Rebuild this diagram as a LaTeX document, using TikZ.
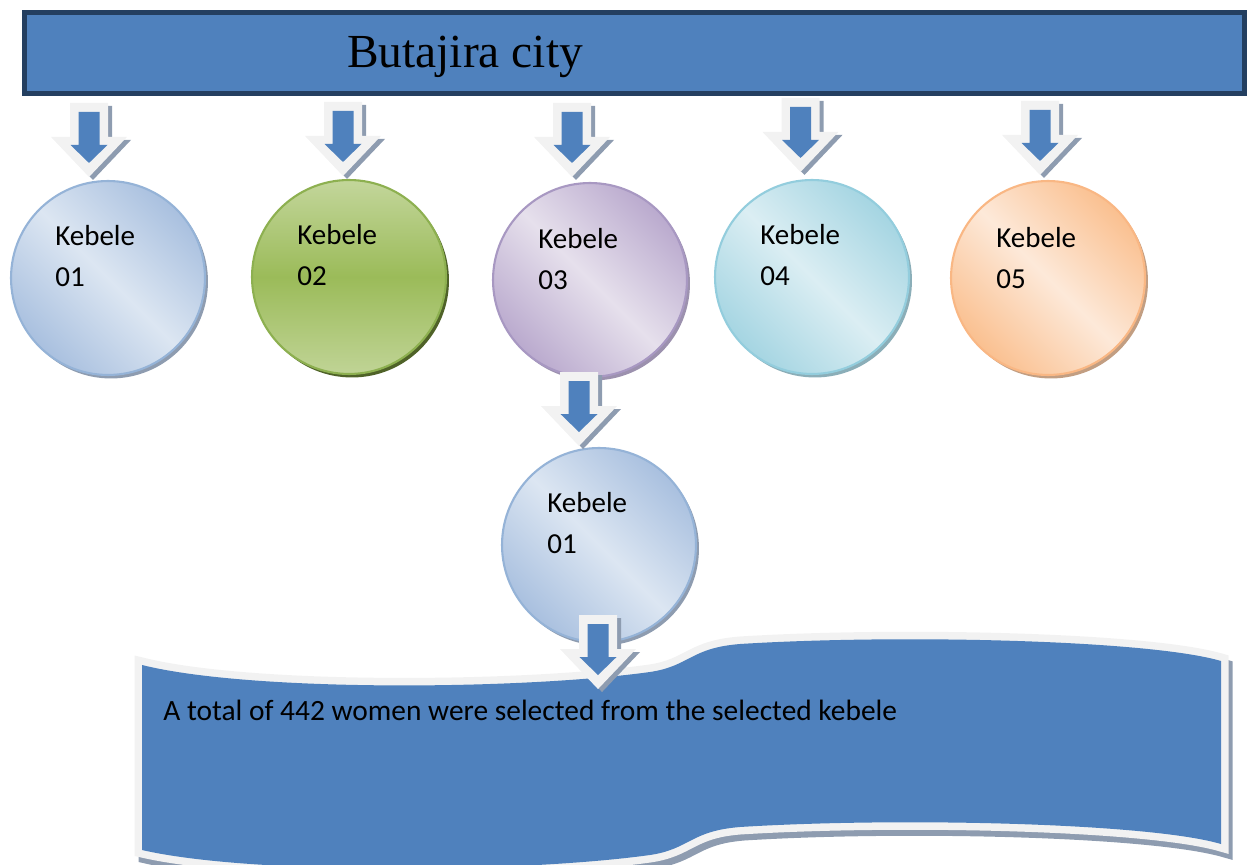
\documentclass[tikz,border=0pt]{standalone}
\usepackage{fontspec}
\setmainfont{Liberation Serif}
\newfontfamily\calibri{Carlito}
\usetikzlibrary{calc, positioning, shadows}

\definecolor{hdrblue}{HTML}{4F81BD}
\definecolor{hdrdark}{HTML}{243F60}
\definecolor{bandgray}{HTML}{F2F2F2}
\definecolor{shadegray}{HTML}{8E9CB0}
% circle colours
\definecolor{bluedark}{HTML}{A9C0DF}
\definecolor{bluelight}{HTML}{DCE6F2}
\definecolor{blueline}{HTML}{95B3D7}
\definecolor{greenlight}{HTML}{C3D69B}
\definecolor{greenmid}{HTML}{9BBB59}
\definecolor{greenline}{HTML}{8DB050}
\definecolor{greenshadow}{HTML}{4F6228}
\definecolor{purpledark}{HTML}{BAAACE}
\definecolor{purplelight}{HTML}{E6E0EC}
\definecolor{purpleline}{HTML}{A898C2}
\definecolor{aquadark}{HTML}{A5D5E2}
\definecolor{aqualight}{HTML}{DBEEF3}
\definecolor{aqualine}{HTML}{93CDDD}
\definecolor{orangedark}{HTML}{FAC090}
\definecolor{orangelight}{HTML}{FDE9D9}
\definecolor{orangeline}{HTML}{F9B784}

\def\bannerpath{(142,665) .. controls (250,692) and (520,690) .. (650,672)
  .. controls (690,666) and (690,648) .. (740,644)
  .. controls (900,634) and (1150,640) .. (1221,661) -- (1221,844)
  .. controls (1150,823) and (900,817) .. (740,827)
  .. controls (690,831) and (690,849) .. (650,855)
  .. controls (520,873) and (250,875) .. (142,850) -- cycle}

\tikzset{
  hdr/.style={rectangle, fill=hdrblue, draw=hdrdark, line width=0.1cm,
    minimum width=24.4cm, minimum height=1.62cm, inner sep=0pt, outer sep=0pt},
  hdrtext/.style={font=\fontsize{27}{30}\selectfont, inner sep=0pt},
  kebele/.style={circle, minimum size=3.88cm, inner sep=0pt, line width=1.2pt},
  kebtext/.style={font=\calibri\fontsize{16.5}{23.3}\selectfont, align=left,
    anchor=west, inner sep=0pt},
  notetext/.style={font=\calibri\fontsize{16.75}{20}\selectfont, anchor=west, inner sep=0pt},
  kshadow/.style={drop shadow={shadow xshift=0.06cm, shadow yshift=-0.07cm,
    opacity=1, fill=#1}},
  kdiag/.style n args={3}{draw=#3, top color=#1, bottom color=#1,
    middle color=#2, shading angle=-45},
  kblue/.style={kdiag={bluedark}{bluelight}{blueline}, kshadow=shadegray},
  kgreen/.style={draw=greenline, top color=greenlight, bottom color=greenlight!92!greenmid,
    middle color=greenmid, kshadow=greenshadow},
  kpurple/.style={kdiag={purpledark}{purplelight}{purpleline}, kshadow=purpleline!70!gray},
  kaqua/.style={kdiag={aquadark}{aqualight}{aqualine}, kshadow=aqualine!60!gray},
  korange/.style={kdiag={orangedark}{orangelight}{orangeline}, kshadow=orangeline!55!gray},
  pics/downarr/.style={code={
    \fill[shadegray, shift={(4,3)}] (0,0) -- (-38,-40) -- (-19,-40) -- (-19,-74)
      -- (19,-74) -- (19,-40) -- (38,-40) -- cycle;
    \fill[bandgray] (0,0) -- (-38,-40) -- (-19,-40) -- (-19,-74)
      -- (19,-74) -- (19,-40) -- (38,-40) -- cycle;
    \fill[hdrblue] (0,-14) -- (-18.5,-32) -- (-10.5,-32) -- (-10.5,-65)
      -- (10.5,-65) -- (10.5,-32) -- (18.5,-32) -- cycle;
  }},
}

\begin{document}
\begin{tikzpicture}[x=0.02cm, y=-0.02cm]
\useasboundingbox (0,0) rectangle (1248,865);

% Header
\node (city) [hdr] at (634.5,53) {};
\node (citytext) [hdrtext] at (465,57) {Butajira city};

% Kebele circles
\node (k1) [kebele, kblue] at (108,278) {};
\node (k2) [kebele, kgreen] at (349,277) {};
\node (k3) [kebele, kpurple] at (590,280) {};
\node (k4) [kebele, kaqua] at (812,277) {};
\node (k5) [kebele, korange] at (1048,278) {};
\node (k6) [kebele, kblue] at (599,545) {};

\node (t1) [kebtext] at ($(k1)+(-53,-22)$) {Kebele\\01};
\node (t2) [kebtext] at ($(k2)+(-52,-22)$) {Kebele\\02};
\node (t3) [kebtext] at ($(k3)+(-52,-21)$) {Kebele\\03};
\node (t4) [kebtext] at ($(k4)+(-52,-22)$) {Kebele\\04};
\node (t5) [kebtext] at ($(k5)+(-52,-20)$) {Kebele\\05};
\node (t6) [kebtext] at ($(k6)+(-52,-22)$) {Kebele\\01};

% Banner
\path[fill=shadegray, draw=shadegray, line width=0.3cm, shift={(4,6)}] \bannerpath;
\path[draw=bandgray, line width=0.3cm] \bannerpath;
\fill[hdrblue] \bannerpath;
\node (note) [notetext] at (163,710) {A total of 442 women were selected from the selected kebele};

% Block arrows
\pic at ($(k1.north)+(-19,-3)$) {downarr};
\pic at ($(k2.north)+(-6,-3)$) {downarr};
\pic at ($(k3.north)+(-18,-5)$) {downarr};
\pic at ($(k4.north)+(-11.5,-7)$) {downarr};
\pic at ($(k5.north)+(-8,-5)$) {downarr};
\pic at ($(k3.south)+(-11,68)$) {downarr};
\pic at ($(k6.south)+(-1,46)$) {downarr};
\end{tikzpicture}
\end{document}
